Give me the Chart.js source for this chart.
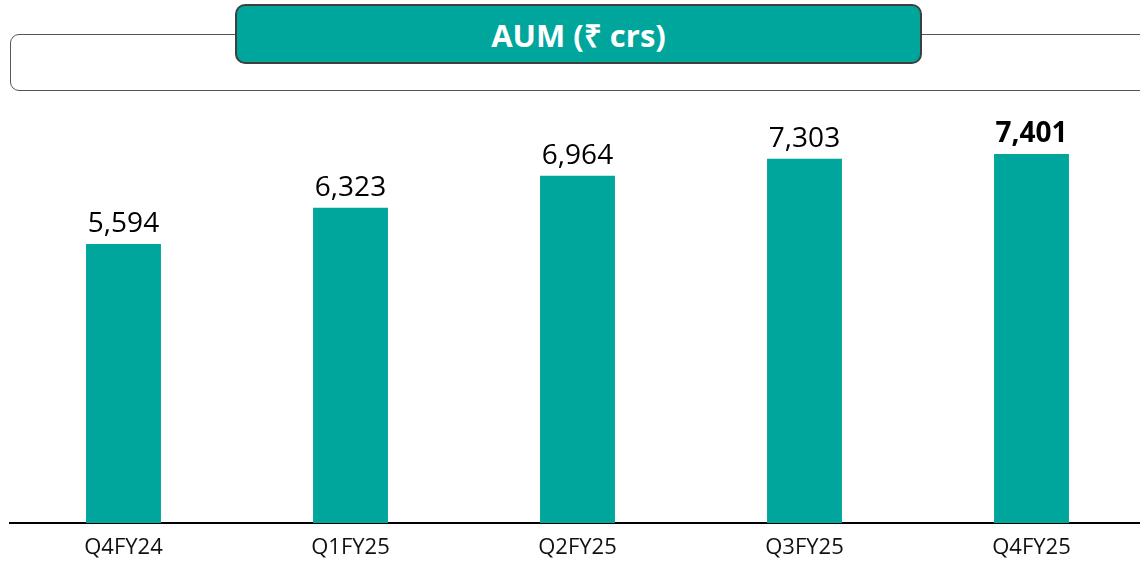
<!DOCTYPE html>
<html>
<head>
<meta charset="utf-8">
<script src="https://cdn.jsdelivr.net/npm/chart.js@4.4.1/dist/chart.umd.min.js"></script>
<style>
  html, body { margin: 0; padding: 0; background: #fff; overflow: hidden; width: 1140px; height: 567px; }
  #wrap { position: relative; width: 1140px; height: 567px; overflow: hidden; }
  #outline { position: absolute; left: 10px; top: 34px; width: 1160px; height: 57px; border: 1.5px solid #555; border-radius: 9px; box-sizing: border-box; background: #fff; }
  #titlebox { position: absolute; left: 235px; top: 4px; width: 687px; height: 60px; background: #00A69C; border: 2px solid #3f3f3f; border-radius: 10px; box-sizing: border-box;
    color: #fff; font-family: "Open Sans", sans-serif; font-weight: 700; font-size: 31px; display: flex; align-items: center; justify-content: center; padding-top: 2px; }
  #chartbox { position: absolute; left: 0; top: 0; width: 1146px; height: 567px; }
</style>
</head>
<body>
<div id="wrap">
  <div id="outline"></div>
  <div id="titlebox">AUM (₹ crs)</div>
  <div id="chartbox"><canvas id="c" width="1146" height="567"></canvas></div>
</div>
<script>
const categories = ["Q4FY24", "Q1FY25", "Q2FY25", "Q3FY25", "Q4FY25"];
const aumValues = [5594, 6323, 6964, 7303, 7401];
const boldLabel = [false, false, false, false, true];

const barColor = "#00A69C";

const valueLabels = {
  id: "valueLabels",
  afterDatasetsDraw(chart) {
    const ctx = chart.ctx;
    const meta = chart.getDatasetMeta(0);
    ctx.save();
    ctx.textAlign = "center";
    ctx.textBaseline = "alphabetic";
    ctx.fillStyle = "#000";
    meta.data.forEach((bar, i) => {
      ctx.font = (boldLabel[i] ? "700 " : "400 ") + "28px 'Open Sans', sans-serif";
      ctx.fillText(aumValues[i].toLocaleString("en-US"), bar.x, bar.y - 12);
    });
    ctx.restore();
  }
};

new Chart(document.getElementById("c"), {
  type: "bar",
  data: {
    labels: categories,
    datasets: [{
      data: aumValues,
      backgroundColor: barColor,
      borderWidth: 0,
      barPercentage: 0.33,
      categoryPercentage: 1.0
    }]
  },
  options: {
    responsive: false,
    animation: false,
    events: [],
    layout: { padding: { top: 124, left: 10, right: 1, bottom: 0 } },
    plugins: { legend: { display: false }, tooltip: { enabled: false }, title: { display: false } },
    scales: {
      x: {
        grid: { display: false, drawTicks: false },
        border: { display: true, color: "#000", width: 2 },
        ticks: { color: "#111", font: { family: "'Open Sans', sans-serif", size: 22 }, padding: 12 },
        afterFit(s) { s.height = 44; }
      },
      y: {
        display: false,
        min: 0,
        max: 8000
      }
    }
  },
  plugins: [valueLabels]
});
</script>
</body>
</html>
